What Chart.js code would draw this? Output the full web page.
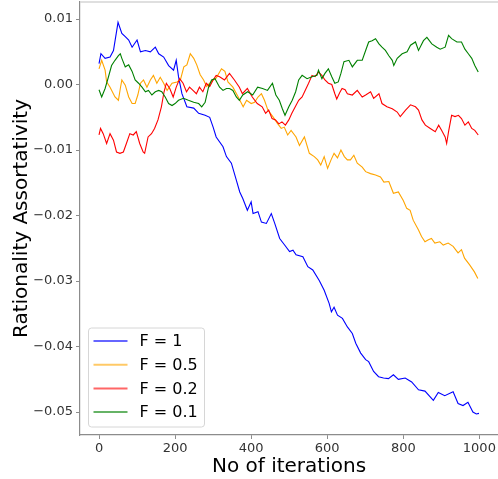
<!DOCTYPE html>
<html>
<head>
<meta charset="utf-8">
<script src="https://cdn.jsdelivr.net/npm/chart.js@4.4.0/dist/chart.umd.min.js"></script>
<style>
  html, body { margin: 0; padding: 0; background: #fff; }
  #wrap { width: 498px; height: 479px; }
</style>
</head>
<body>
<div id="wrap"><canvas id="lineChart"></canvas></div>
<script>
// values
var seriesLabels = ['F = 1', 'F = 0.5', 'F = 0.2', 'F = 0.1'];
var seriesColors = ['#0000ff', '#ffa500', '#ff0000', '#008000'];
var xTicks = [0, 200, 400, 600, 800, 1000];
var yTicks = [-0.05, -0.04, -0.03, -0.02, -0.01, 0.0, 0.01];

var f1Iter = [0, 5, 16, 29, 38, 50, 60, 69, 78, 87, 100, 109, 122, 135, 148, 157, 170, 183, 196, 203, 209, 218, 231, 249, 262, 279, 291, 300, 308, 326, 335, 348, 361, 370, 378, 390, 400, 405, 418, 427, 440, 453, 462, 475, 488, 501, 510, 518, 536, 549, 562, 579, 592, 605, 611, 618, 627, 640, 653, 666, 675, 688, 701, 709, 722, 735, 748, 761, 774, 787, 805, 822, 840, 857, 879, 892, 909, 931, 944, 957, 970, 983, 992, 999];
var f1Vals = [0.0032, 0.0047, 0.004, 0.0042, 0.0052, 0.0095, 0.0078, 0.0073, 0.0068, 0.0057, 0.0068, 0.005, 0.0052, 0.005, 0.0057, 0.0047, 0.0042, 0.0029, 0.0022, 0.0037, 0.0012, -0.0014, -0.0034, -0.0036, -0.0044, -0.0047, -0.005, -0.0065, -0.008, -0.0095, -0.011, -0.012, -0.0146, -0.0164, -0.0174, -0.0192, -0.0179, -0.0197, -0.0194, -0.021, -0.0212, -0.0197, -0.0212, -0.0235, -0.0245, -0.0255, -0.0253, -0.026, -0.0263, -0.0278, -0.0283, -0.0299, -0.0314, -0.0334, -0.0347, -0.034, -0.0352, -0.0357, -0.037, -0.038, -0.0395, -0.041, -0.042, -0.0423, -0.0438, -0.0446, -0.0448, -0.0449, -0.0443, -0.045, -0.0448, -0.0454, -0.0466, -0.0468, -0.0482, -0.047, -0.0475, -0.0469, -0.0487, -0.049, -0.0485, -0.05, -0.0503, -0.0502];

var f05Iter = [0, 7, 16, 20, 29, 42, 51, 56, 60, 69, 78, 87, 95, 102, 109, 117, 126, 135, 143, 152, 161, 170, 179, 192, 205, 214, 223, 231, 240, 249, 257, 266, 275, 283, 291, 300, 308, 322, 331, 339, 352, 366, 379, 388, 400, 409, 418, 427, 435, 444, 457, 470, 479, 487, 496, 505, 518, 527, 540, 553, 566, 575, 583, 592, 601, 610, 618, 627, 636, 645, 653, 661, 670, 679, 692, 701, 714, 727, 740, 749, 762, 774, 787, 800, 809, 818, 826, 840, 848, 857, 866, 874, 883, 896, 905, 918, 931, 944, 953, 961, 974, 987, 996];
var f05Vals = [0.0024, 0.0037, 0.0022, 0.0004, -0.0004, -0.0019, -0.0024, -0.0006, 0.0007, -0.0001, -0.0019, -0.0029, -0.0029, -0.0016, 0.0002, 0.0007, -0.0004, 0.0007, 0.0014, 0.0002, 0.0011, 0.0002, -0.0009, 0.0002, 0.0004, 0.0007, 0.0027, 0.003, 0.0047, 0.004, 0.003, 0.0015, 0.0007, -0.0003, 0.0002, 0.0007, 0.001, 0.0024, 0.002, 0.0004, -0.0004, -0.0019, -0.0034, -0.0024, -0.0029, -0.0027, -0.0019, -0.0014, -0.0024, -0.0039, -0.0049, -0.006, -0.0067, -0.0065, -0.0077, -0.007, -0.008, -0.0093, -0.008, -0.0105, -0.011, -0.0115, -0.0123, -0.011, -0.0128, -0.0115, -0.0105, -0.0112, -0.01, -0.011, -0.0115, -0.0115, -0.0108, -0.012, -0.0126, -0.0133, -0.0136, -0.0138, -0.0141, -0.0149, -0.0148, -0.0166, -0.0164, -0.0177, -0.0189, -0.0192, -0.0207, -0.0222, -0.0232, -0.024, -0.0237, -0.0235, -0.0242, -0.024, -0.0245, -0.0242, -0.0247, -0.0257, -0.0252, -0.0265, -0.0275, -0.0286, -0.0296];

var f02Iter = [0, 4, 11, 20, 29, 38, 46, 55, 64, 72, 81, 90, 98, 107, 116, 120, 129, 138, 146, 155, 164, 171, 177, 186, 195, 203, 212, 221, 230, 238, 247, 256, 264, 273, 282, 291, 300, 308, 317, 330, 343, 356, 369, 377, 390, 403, 416, 429, 438, 446, 455, 464, 473, 481, 490, 499, 507, 516, 525, 534, 542, 551, 560, 568, 577, 586, 594, 603, 612, 620, 625, 633, 639, 647, 653, 666, 679, 692, 701, 714, 722, 736, 744, 757, 771, 784, 792, 806, 819, 832, 840, 849, 858, 871, 884, 893, 901, 910, 914, 919, 927, 936, 945, 953, 962, 971, 980, 988, 997];
var f02Vals = [-0.0077, -0.0067, -0.0075, -0.009, -0.0075, -0.0085, -0.0103, -0.0105, -0.0103, -0.009, -0.0075, -0.0077, -0.0072, -0.009, -0.0103, -0.0105, -0.008, -0.0075, -0.0067, -0.0054, -0.0034, -0.0011, 0.0002, -0.0006, -0.0019, -0.0004, 0.0009, 0.0002, -0.0011, -0.0004, -0.0009, -0.0014, -0.0004, -0.0011, 0.0002, -0.0003, 0.0007, 0.0014, 0.0012, 0.0007, 0.0017, 0.0007, -0.0004, -0.0014, -0.0006, -0.0019, -0.0029, -0.0034, -0.0044, -0.0039, -0.0052, -0.0054, -0.006, -0.0057, -0.0062, -0.0054, -0.0044, -0.0034, -0.0024, -0.0019, -0.0009, 0.0002, 0.0014, 0.0012, 0.0019, 0.0014, 0.0007, 0.0002, 0.0, -0.0014, -0.0022, -0.0012, -0.0006, -0.0008, -0.0014, -0.0016, -0.0009, -0.0019, -0.0016, -0.0011, -0.0021, -0.0014, -0.0029, -0.0034, -0.0037, -0.0042, -0.0049, -0.0039, -0.0031, -0.0034, -0.0039, -0.0054, -0.0062, -0.0067, -0.0072, -0.0062, -0.007, -0.008, -0.009, -0.0072, -0.0047, -0.0049, -0.0047, -0.0052, -0.0062, -0.0057, -0.0067, -0.007, -0.0077];

var f01Iter = [0, 7, 16, 24, 33, 42, 51, 56, 60, 69, 78, 87, 95, 104, 113, 122, 130, 139, 148, 157, 165, 174, 183, 192, 200, 209, 222, 235, 249, 262, 270, 279, 288, 296, 305, 317, 326, 335, 343, 352, 361, 369, 378, 391, 404, 417, 430, 443, 456, 465, 474, 482, 489, 499, 508, 517, 525, 534, 547, 560, 573, 577, 586, 594, 603, 612, 620, 629, 636, 644, 657, 666, 679, 692, 701, 709, 718, 727, 736, 744, 753, 762, 771, 775, 784, 797, 810, 819, 832, 840, 853, 862, 875, 888, 897, 910, 919, 927, 941, 953, 962, 971, 980, 988, 997];
var f01Vals = [-0.0008, -0.0019, -0.0006, 0.001, 0.0029, 0.0037, 0.0044, 0.0047, 0.004, 0.0027, 0.003, 0.002, 0.0007, 0.0002, -0.0004, -0.0011, -0.0009, -0.0016, -0.0011, -0.0009, -0.0011, -0.0019, -0.0029, -0.0032, -0.0029, -0.0024, -0.0021, -0.0024, -0.0027, -0.0029, -0.0034, -0.0027, -0.0004, 0.0007, 0.0009, -0.0004, -0.0009, -0.0006, -0.0006, -0.0009, -0.0019, -0.0024, -0.0016, -0.0011, -0.0016, -0.0004, -0.0006, -0.0009, 0.0002, -0.0016, -0.0024, -0.0037, -0.0047, -0.0034, -0.0024, -0.0011, 0.0007, 0.0014, 0.0009, 0.0012, 0.0014, 0.0022, 0.0009, 0.0017, 0.0024, 0.0012, 0.0002, 0.0004, 0.0017, 0.0035, 0.0037, 0.0027, 0.0037, 0.0037, 0.0052, 0.0065, 0.0067, 0.007, 0.0062, 0.0057, 0.0052, 0.0044, 0.0037, 0.0029, 0.004, 0.0047, 0.005, 0.006, 0.0065, 0.0052, 0.0067, 0.0072, 0.0062, 0.0057, 0.0054, 0.0057, 0.0075, 0.007, 0.0065, 0.0065, 0.0054, 0.0047, 0.004, 0.0029, 0.0019];

function pts(xs, ys) {
    return xs.map(function (x, i) { return { x: x, y: ys[i] }; });
}

var allIters = [f1Iter, f05Iter, f02Iter, f01Iter];
var allVals = [f1Vals, f05Vals, f02Vals, f01Vals];

var datasets = seriesLabels.map(function (lab, i) {
    return {
        label: lab,
        data: pts(allIters[i], allVals[i]),
        borderColor: seriesColors[i],
        backgroundColor: seriesColors[i],
        borderWidth: 1.1,
        pointRadius: 0,
        tension: 0,
        order: 4 - i
    };
});

function fmtMinus(v) {
    return v.toFixed(2).replace('-', '\u2212');
}

// legend box drawn inside the plot, lower left, like matplotlib
var innerLegend = {
    id: 'innerLegend',
    afterDraw: function (chart) {
        var ctx = chart.ctx, a = chart.chartArea;
        var x0 = a.left + 8.5, w = 116, h = 99, y0 = a.bottom - 8 - h;
        ctx.save();
        ctx.beginPath();
        ctx.roundRect(x0, y0, w, h, 3);
        ctx.fillStyle = 'rgba(255,255,255,0.8)';
        ctx.fill();
        ctx.strokeStyle = '#d6d6d6';
        ctx.lineWidth = 1;
        ctx.stroke();
        ctx.font = '16px "DejaVu Sans"';
        ctx.textBaseline = 'middle';
        seriesLabels.forEach(function (lab, i) {
            var y = y0 + 13 + i * 23.7;
            ctx.strokeStyle = seriesColors[i];
            ctx.globalAlpha = 0.6;
            ctx.lineWidth = 2;
            ctx.beginPath();
            ctx.moveTo(x0 + 5, y);
            ctx.lineTo(x0 + 39, y);
            ctx.stroke();
            ctx.globalAlpha = 1;
            ctx.fillStyle = '#000';
            ctx.fillText(lab, x0 + 51, y + 1);
        });
        ctx.restore();
    }
};

// light top spine
var frame = {
    id: 'frame',
    beforeDatasetsDraw: function (chart) {
        var ctx = chart.ctx, a = chart.chartArea;
        ctx.save();
        ctx.strokeStyle = '#d4d4d4';
        ctx.lineWidth = 1.5;
        ctx.beginPath();
        ctx.moveTo(a.left, a.top);
        ctx.lineTo(a.right, a.top);
        ctx.stroke();
        ctx.restore();
    }
};

var ctxEl = document.getElementById('lineChart');
var lineChart = new Chart(ctxEl, {
    type: 'line',
    data: { datasets: datasets },
    options: {
        responsive: true,
        maintainAspectRatio: false,
        animation: false,
        layout: { padding: { top: 2, right: -2, left: 0, bottom: 0 } },
        plugins: {
            legend: { display: false },
            tooltip: { enabled: false }
        },
        scales: {
            x: {
                type: 'linear',
                min: -50,
                max: 1049,
                afterBuildTicks: function (s) {
                    s.ticks = xTicks.map(function (v) { return { value: v }; });
                },
                afterFit: function (s) {
                    s.height = 44;
                    s.paddingLeft = 0;
                    s.paddingRight = 0;
                },
                border: { display: true, color: '#8c8c8c', width: 1.2 },
                grid: { display: true, drawOnChartArea: false, drawTicks: true, tickLength: 4, color: '#8c8c8c' },
                ticks: {
                    font: { family: 'DejaVu Sans', size: 13 },
                    color: '#333',
                    padding: 2,
                    maxRotation: 0,
                    callback: function (v) { return String(v); }
                },
                title: {
                    display: true,
                    text: 'No of iterations',
                    font: { family: 'DejaVu Sans', size: 20 },
                    color: '#000',
                    padding: { top: 0, bottom: 0 }
                }
            },
            y: {
                type: 'linear',
                min: -0.0535,
                max: 0.0126,
                afterBuildTicks: function (s) {
                    s.ticks = yTicks.map(function (v) { return { value: v }; });
                },
                afterFit: function (s) {
                    s.width = 80;
                    s.paddingTop = 0;
                    s.paddingBottom = 0;
                },
                border: { display: true, color: '#8c8c8c', width: 1.2 },
                grid: { display: true, drawOnChartArea: false, drawTicks: true, tickLength: 4, color: '#8c8c8c' },
                ticks: {
                    font: { family: 'DejaVu Sans', size: 13 },
                    color: '#333',
                    padding: 3,
                    callback: function (v) { return fmtMinus(v); }
                },
                title: {
                    display: true,
                    text: 'Rationality Assortativity',
                    font: { family: 'DejaVu Sans', size: 20 },
                    color: '#000',
                    padding: { top: 10, bottom: 0 }
                }
            }
        }
    },
    plugins: [frame, innerLegend]
});
</script>
</body>
</html>
